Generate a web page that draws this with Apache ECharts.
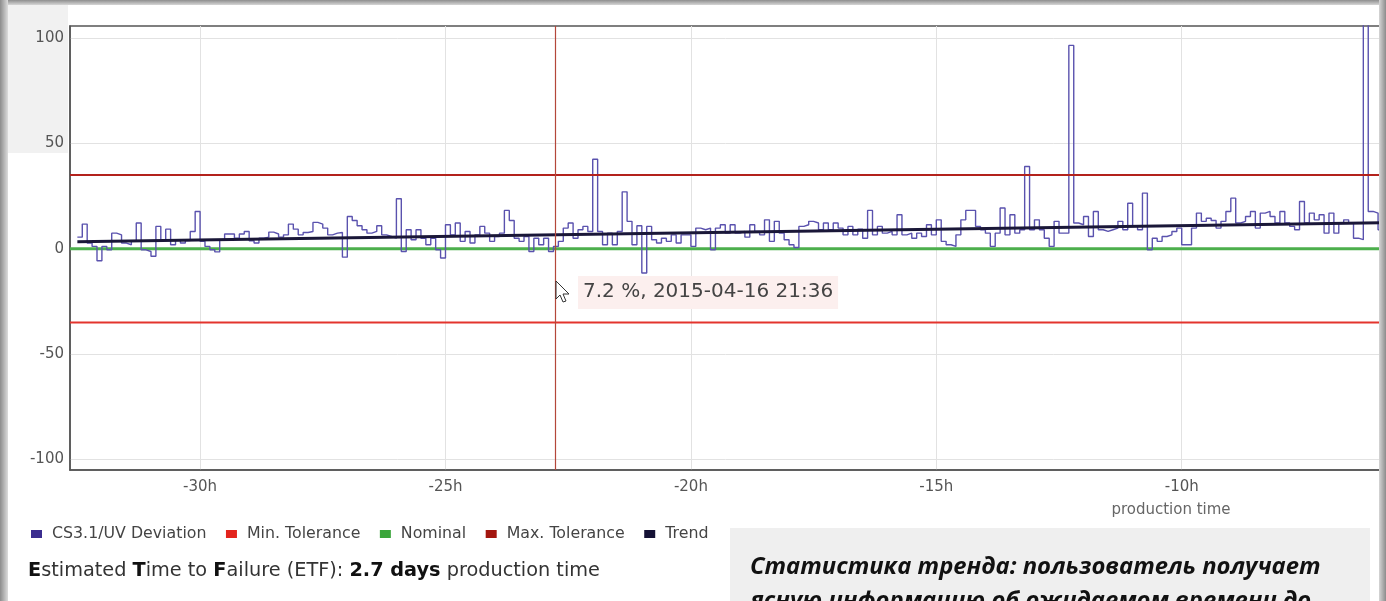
<!DOCTYPE html>
<html>
<head>
<meta charset="utf-8">
<script src="https://cdn.jsdelivr.net/npm/echarts@6/dist/echarts.min.js"></script>
<style>
  html, body { margin: 0; padding: 0; background: #fff; }
  #wrap { position: relative; width: 1386px; height: 601px; overflow: hidden; background: #fff; }
  #shade { position: absolute; left: 8px; top: 5px; width: 60px; height: 148px; background: #f1f1f1; }
  #chart { position: absolute; left: 0; top: 0; width: 1386px; height: 601px; }
  .band { position: absolute; pointer-events: none; }
  #bt { left: 0; top: 0; width: 1386px; height: 5px; background: linear-gradient(#8e8e8e, #d6d6d6); }
  #bl { left: 0; top: 0; width: 8px; height: 601px; background: linear-gradient(to right, #8c8c8c, #dcdcdc); }
  #br { right: 0; top: 0; width: 7px; height: 601px; background: linear-gradient(to left, #8c8c8c, #d6d6d6); }
</style>
</head>
<body>
<div id="wrap">
  <div id="shade"></div>
  <div id="chart"></div>
  <div class="band" id="bt"></div>
  <div class="band" id="bl"></div>
  <div class="band" id="br"></div>
</div>
<script>
// ---------- data ----------
const hourStart = -32.5;   // first sample (hours before now)
const hourStep = 0.1;      // sampling interval (hours)
const deviation = [
  5.5, 11.7, 2.7, 1.1, -5.7, 1.1, -0.5, 7.4, 6.6, 2.7,
  1.9, 3.5, 12.2, -0.5, -1.3, -3.6, 10.6, 4.3, 9.3, 1.9,
  4.3, 2.7, 3.9, 8.2, 17.7, 3.5, 1.1, -0.5, -1.5, 4.3,
  7, 7, 5, 7, 8.2, 3.8, 2.7, 5, 5.5, 7.9,
  7, 5.5, 6.6, 11.7, 9.3, 6.6, 7.7, 8.2, 12.5, 11.7,
  9.8, 6.6, 7.4, 7.7, -4, 15.3, 13.4, 10.9, 9, 7.4,
  8.2, 10.9, 6.6, 5.8, 5, 23.7, -1.3,
  9, 4.3, 9, 5, 1.9, 5, -0.5, -4.4, 11.4, 6.6,
  12.2, 3.5, 8.2, 2.7, 6.6, 10.6, 7.4, 3.5, 5.8, 7.4,
  18.2, 13.4, 5, 3.5, 5.8, -1.3, 5, 1.9, 5, -1.3,
  1.1, 3.5, 9.8, 12.2, 5, 9, 10.6, 8.2, 42.5, 8.2,
  1.9, 7.4, 1.9, 8.2, 27, 13, 1.9, 10.9, -11.5, 10.6,
  4.3, 2.7, 5, 3.5, 6.6, 2.7, 6.6, 6.6, 1.1, 9.8,
  9, 9.8, -0.5, 9.8, 11.4, 7.4, 11.4, 7.4, 8.2,
  5.5, 11.4, 8.2, 6.6, 13.7, 3.5, 13, 7.4, 4.3, 1.9,
  0.6, 10.6, 11.4, 13, 12.2, 9, 12.2, 9, 12.2, 9.8,
  6.6, 10.6, 6.6, 9.3, 5, 18.2, 6.6, 10.6, 7.4, 8.2,
  6.6, 16.1, 6.6, 7.4, 5, 7.4, 5.8, 11.4, 6.6, 13.7,
  3.5, 1.9, 1.1, 6.6, 13.7, 18.2, 18.2, 10.6, 9, 7.4,
  1.1, 7.4, 19.3, 6.6, 16.1, 7.4, 9, 39, 9, 13.7,
  9, 5, 1.1, 13, 7.4, 7.4, 96.5,
  12.2, 11.4, 15.3, 5.8, 17.7, 9, 8.2, 9, 9.8, 13,
  9, 21.6, 10.6, 9, 26.4, -0.5, 5, 3.5, 5.8, 6.6,
  8.2, 9.8, 1.9, 1.9, 9.8, 16.9, 13, 14.5, 13.4,
  9.8, 13, 17.7, 24, 12.2, 13, 15.3, 17.7, 9.8, 16.9,
  17.7, 15.3, 12.2, 17.7, 12.2, 10.6, 9, 22.4, 12.2, 16.9,
  13.7, 16.1, 7.4, 16.9, 7.4, 12.2, 13.7, 12.2, 5, 4.3,
  125, 17.7, 16.9, 9, 13.7
];
const minTolerance = -35;
const nominal = 0;
const maxTolerance = 35;
const trendHours = [-32.5, -5.94];
const trendValues = [3.3, 12.3];
const cursorHour = -22.76;
const cursorText = '7.2 %, 2015-04-16 21:36';
const xTickValues = [-30, -25, -20, -15, -10];
const xTickLabels = ['-30h', '-25h', '-20h', '-15h', '-10h'];
const yTickValues = [-100, -50, 0, 50, 100];
const yTickLabels = ['-100', '-50', '0', '50', '100'];
const seriesNames = ['CS3.1/UV Deviation', 'Min. Tolerance', 'Nominal', 'Max. Tolerance', 'Trend'];
const xAxisName = 'production time';
const etfValue = '2.7 days';
const captionLine1 = 'Статистика тренда: пользователь получает';
const captionLine2 = 'ясную информацию об ожидаемом времени до';

// ---------- chart ----------
const xMin = -32.65, xMax = -5.94;
const yMin = -105, yMax = 105.7;
const font = 'DejaVu Sans';

const devData = deviation.map((v, i) => [hourStart + i * hourStep, v]);
const flat = v => [[xMin, v], [xMax, v]];
const trendData = trendHours.map((h, i) => [h, trendValues[i]]);

const chart = echarts.init(document.getElementById('chart'), null, { renderer: 'canvas' });
chart.setOption({
  animation: false,
  backgroundColor: 'transparent',
  grid: { left: 70, top: 26, right: 5, bottom: 131, show: true, borderColor: '#555', borderWidth: 1.5, backgroundColor: 'transparent' },
  xAxis: {
    type: 'value', min: xMin, max: xMax,
    name: xAxisName, nameLocation: 'end', nameGap: -210,
    nameTextStyle: { fontFamily: font, fontSize: 15, color: '#666', align: 'center', verticalAlign: 'top', padding: [33, 0, 0, 0] },
    axisLine: { show: true, onZero: false, lineStyle: { color: '#555', width: 1.5 } },
    axisTick: { show: false, customValues: xTickValues },
    axisLabel: {
      customValues: xTickValues, margin: 10, color: '#555', fontFamily: font, fontSize: 15,
      formatter: v => xTickLabels[xTickValues.indexOf(v)]
    },
    splitLine: { show: true, lineStyle: { color: '#e2e2e2', width: 1 } }
  },
  yAxis: {
    type: 'value', min: yMin, max: yMax,
    axisLine: { show: true, lineStyle: { color: '#555', width: 1.5 } },
    axisTick: { show: false, customValues: yTickValues },
    axisLabel: {
      customValues: yTickValues, margin: 6, color: '#555', fontFamily: font, fontSize: 15,
      formatter: v => yTickLabels[yTickValues.indexOf(v)]
    },
    splitLine: { show: true, lineStyle: { color: '#e2e2e2', width: 1 } }
  },
  legend: {
    data: seriesNames, left: 31, top: 526, padding: 0, icon: 'rect', itemWidth: 11, itemHeight: 8, itemGap: 19.5,
    textStyle: { fontFamily: font, fontSize: 15.8, color: '#444', padding: [0, 0, 0, 5] }
  },
  series: [
    {
      name: seriesNames[0], type: 'line', step: 'end', data: devData, showSymbol: false, symbol: 'none',
      itemStyle: { color: '#3b2d8f' }, lineStyle: { color: '#5a52ae', width: 1.4 }, z: 2,
      markLine: {
        silent: true, symbol: ['none', 'none'], label: { show: false },
        lineStyle: { color: '#b4473a', width: 1.2, type: 'solid' },
        data: [{ xAxis: cursorHour }], z: 10
      }
    },
    { name: seriesNames[1], type: 'line', data: flat(minTolerance), showSymbol: false, symbol: 'none',
      itemStyle: { color: '#e3241d' }, lineStyle: { color: '#e3342d', width: 2.2 }, z: 3 },
    { name: seriesNames[2], type: 'line', data: flat(nominal), showSymbol: false, symbol: 'none',
      itemStyle: { color: '#3ba53b' }, lineStyle: { color: '#4caf4c', width: 3 }, z: 1 },
    { name: seriesNames[3], type: 'line', data: flat(maxTolerance), showSymbol: false, symbol: 'none',
      itemStyle: { color: '#a3160f' }, lineStyle: { color: '#b3221c', width: 2.2 }, z: 3 },
    { name: seriesNames[4], type: 'line', data: trendData, showSymbol: false, symbol: 'none',
      itemStyle: { color: '#151235' }, lineStyle: { color: '#1a1738', width: 3 }, z: 4 }
  ],
  graphic: [
    { type: 'text', x: 578, y: 276, z: 100,
      style: { text: cursorText, font: '20px DejaVu Sans', fill: '#444', backgroundColor: '#fcefee', padding: [6, 5, 7, 5] } },
    { type: 'polygon', x: 556, y: 281, z: 101,
      shape: { points: [[0, 0], [0, 18], [4, 14], [7, 21], [10, 20], [7, 13], [13, 13]] },
      style: { fill: '#fff', stroke: '#333', lineWidth: 1 } },
    { type: 'text', x: 28, y: 561, z: 100,
      style: {
        text: '{b|E}{r|stimated }{b|T}{r|ime to }{b|F}{r|ailure (ETF): }{b|' + etfValue + '}{r| production time}',
        rich: {
          b: { fontFamily: font, fontSize: 19.3, fontWeight: 'bold', fill: '#111' },
          r: { fontFamily: font, fontSize: 19.3, fill: '#333' }
        }
      } },
    { type: 'rect', x: 730, y: 528, z: 99, shape: { width: 640, height: 80 }, style: { fill: '#efefef' } },
    { type: 'text', x: 750, y: 555, z: 100,
      style: { text: captionLine1, font: 'italic bold 23.8px "Open Sans", "Noto Sans", sans-serif', fill: '#111' } },
    { type: 'text', x: 750, y: 589, z: 100,
      style: { text: captionLine2, font: 'italic bold 23.8px "Open Sans", "Noto Sans", sans-serif', fill: '#111' } }
  ]
});
</script>
</body>
</html>
